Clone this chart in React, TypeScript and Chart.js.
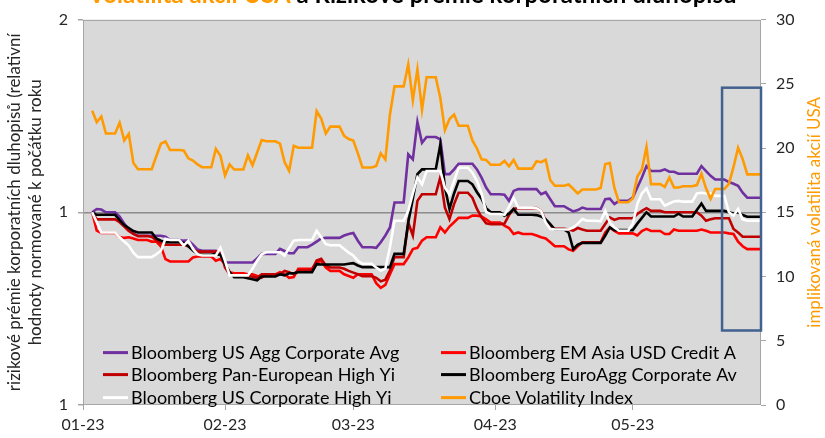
import React, { useEffect, useRef } from "react";
import { Chart, registerables } from "chart.js";

Chart.register(...registerables);

const FONT = "Lato, 'Open Sans', sans-serif";
const AXIS_COLOR = "#A6A6A6";
const TEXT_COLOR = "#262626";

// x axis: day offsets from 2023-01-01 (Sunday). Data are business days; weekends carry Friday's value.
const firstDay = 2;
const lastDay = 148;
const monthTickDays = [0, 31, 59, 90, 120];
const monthTickLabels = ["01-23", "02-23", "03-23", "04-23", "05-23"];
const leftTickValues = [0.5, 1, 2];
const rightTickMax = 30;
const rightTickStep = 5;

const seriesNames = [
  "Bloomberg US Agg Corporate Avg",
  "Bloomberg EM Asia USD Credit A",
  "Bloomberg Pan-European High Yi",
  "Bloomberg EuroAgg Corporate Av",
  "Bloomberg US Corporate High Yi",
  "Cboe Volatility Index",
];
const seriesColors = ["#7030A0", "#FF0000", "#C00000", "#000000", "#FFFFFF", "#FF9A00"];

// one row per week (Mon..Fri)
const usAggCorporate = [
  1.0, 1.012, 1.01, 1.0,
  0.985, 0.96, 0.94, 0.925, 0.919,
  0.919, 0.919, 0.919, 0.916, 0.905,
  0.903, 0.903, 0.89, 0.875, 0.871,
  0.871, 0.862, 0.835, 0.835, 0.835,
  0.835, 0.835, 0.847, 0.861, 0.861,
  0.877, 0.87, 0.863, 0.863, 0.882,
  0.89, 0.9, 0.91, 0.912, 0.912,
  0.92, 0.925, 0.928, 0.903, 0.882,
  0.88, 0.898, 0.92, 0.947, 1.036,
  1.232, 1.21, 1.384, 1.284, 1.311,
  1.3, 1.147, 1.147, 1.167, 1.191,
  1.191, 1.167, 1.133, 1.093, 1.067,
  1.065, 1.042, 1.08, 1.087, 1.087,
  1.087, 1.067, 1.075, 1.048, 1.022,
  1.012, 1.003, 1.008, 1.017, 1.012,
  1.012, 1.048, 1.05, 1.03, 1.042,
  1.054, 1.093, 1.133, 1.181, 1.16,
  1.167, 1.157, 1.157, 1.149, 1.149,
  1.149, 1.181, 1.16, 1.14, 1.125,
  1.115, 1.108, 1.1, 1.073, 1.054,
  1.054,
];

const emAsiaCredit = [
  1.0, 0.936, 0.928, 0.928,
  0.915, 0.912, 0.914, 0.91, 0.905,
  0.9, 0.9, 0.885, 0.845, 0.838,
  0.838, 0.838, 0.85, 0.853, 0.853,
  0.84, 0.845, 0.83, 0.806, 0.803,
  0.8, 0.8, 0.795, 0.79, 0.8,
  0.806, 0.8, 0.79, 0.792, 0.816,
  0.816, 0.835, 0.84, 0.82, 0.81,
  0.8, 0.795, 0.79, 0.8, 0.8,
  0.775, 0.762, 0.77, 0.8, 0.83,
  0.85, 0.876, 0.88, 0.903, 0.914,
  0.947, 0.93, 0.95, 0.965, 0.98,
  0.988, 0.988, 0.985, 0.975, 0.964,
  0.953, 0.945, 0.925, 0.93, 0.925,
  0.92, 0.914, 0.91, 0.898, 0.885,
  0.875, 0.871, 0.885, 0.898, 0.898,
  0.898, 0.93, 0.947, 0.935, 0.927,
  0.927, 0.92, 0.935, 0.942, 0.935,
  0.925, 0.925, 0.94, 0.936, 0.936,
  0.936, 0.94, 0.936, 0.93, 0.93,
  0.927, 0.925, 0.9, 0.885, 0.876,
  0.876,
];

const panEuroHighYield = [
  1.0, 0.975, 0.975, 0.975,
  0.965, 0.95, 0.935, 0.925, 0.918,
  0.915, 0.905, 0.895, 0.89, 0.89,
  0.89, 0.885, 0.875, 0.868, 0.868,
  0.868, 0.87, 0.82, 0.8, 0.796,
  0.796, 0.793, 0.79, 0.8, 0.8,
  0.8, 0.81, 0.806, 0.8, 0.811,
  0.813, 0.841, 0.846, 0.826, 0.82,
  0.816, 0.81, 0.805, 0.8, 0.795,
  0.79, 0.78, 0.785, 0.811, 0.851,
  0.964, 0.92, 1.042, 1.067, 1.067,
  1.135, 1.017, 0.976, 1.03, 1.073,
  1.054, 1.012, 0.982, 0.961, 0.958,
  0.96, 0.99, 1.012, 1.015, 1.015,
  1.015, 1.005, 0.97, 0.945, 0.942,
  0.94, 0.936, 0.945, 0.94, 0.936,
  0.936, 0.959, 0.982, 0.973, 0.979,
  0.979, 0.994, 1.005, 1.015, 1.005,
  1.0, 1.0, 1.0, 1.0, 1.0,
  1.0, 0.988, 0.97, 0.975, 0.979,
  0.979, 0.942, 0.93, 0.916, 0.916,
  0.916,
];

const euroAggCorporate = [
  1.0, 0.991, 0.991, 0.991,
  0.972, 0.955, 0.945, 0.935, 0.93,
  0.93, 0.91, 0.903, 0.898, 0.898,
  0.896, 0.885, 0.872, 0.861, 0.858,
  0.861, 0.858, 0.83, 0.806, 0.792,
  0.789, 0.786, 0.783, 0.794, 0.794,
  0.8, 0.797, 0.803, 0.803, 0.806,
  0.806, 0.83, 0.829, 0.829, 0.829,
  0.829, 0.831, 0.833, 0.826, 0.821,
  0.821, 0.821, 0.821, 0.821, 0.861,
  0.964, 1.05, 1.147, 1.167, 1.167,
  1.276, 1.093, 1.012, 1.07, 1.119,
  1.106, 1.075, 1.05, 1.015, 1.0,
  0.988, 0.995, 1.012, 0.991, 0.991,
  0.99, 0.985, 0.975, 0.958, 0.94,
  0.93, 0.876, 0.89, 0.896, 0.896,
  0.896, 0.92, 0.947, 0.938, 0.938,
  0.938, 0.96, 0.98, 1.0, 0.985,
  0.985, 0.985, 0.985, 0.995, 0.985,
  1.008, 1.032, 1.005, 1.005, 1.005,
  1.0, 0.996, 1.0, 0.99, 0.984,
  0.984,
];

const usCorpHighYield = [
  1.0, 0.965, 0.93, 0.93,
  0.914, 0.9, 0.887, 0.865, 0.851,
  0.851, 0.86, 0.871, 0.909, 0.905,
  0.887, 0.903, 0.876, 0.86, 0.856,
  0.856, 0.88, 0.84, 0.797, 0.797,
  0.797, 0.816, 0.84, 0.86, 0.866,
  0.866, 0.856, 0.88, 0.903, 0.905,
  0.905, 0.936, 0.914, 0.892, 0.888,
  0.876, 0.865, 0.856, 0.84, 0.831,
  0.82, 0.811, 0.816, 0.882, 0.97,
  1.005, 1.07, 1.133, 1.106, 1.16,
  1.16, 1.093, 1.067, 1.119, 1.174,
  1.153, 1.119, 1.07, 1.0, 0.994,
  0.991, 1.02, 1.054, 1.017, 1.017,
  1.015, 1.005, 0.964, 0.942, 0.94,
  0.94, 0.947, 0.96, 0.976, 0.97,
  0.968, 1.005, 0.964, 0.947, 0.936,
  0.959, 1.03, 1.07, 1.09, 1.048,
  1.024, 1.032, 1.04, 1.042, 1.039,
  1.07, 1.073, 1.07, 1.07, 1.061,
  1.0, 0.988, 1.012, 0.975, 0.97,
  0.97,
];

const vixIndex = [
  22.9, 22.01, 22.46, 21.13,
  21.97, 20.6, 21.1, 18.83, 18.35,
  18.35, 19.36, 20.34, 20.52, 19.85,
  19.81, 19.2, 19.03, 18.73, 18.51,
  19.94, 19.4, 17.87, 18.73, 18.33,
  19.43, 18.66, 19.63, 20.63, 20.53,
  20.34, 18.91, 18.23, 20.17, 20.02,
  20.02, 22.87, 22.29, 21.14, 21.67,
  20.95, 20.7, 20.58, 19.59, 18.49,
  18.6, 19.59, 19.11, 22.61, 24.8,
  26.52, 23.73, 26.14, 22.99, 25.51,
  23.9, 21.4, 22.26, 22.61, 21.74,
  20.6, 19.97, 19.12, 19.08, 18.7,
  19.0, 18.58, 19.08, 18.4, 18.4,
  18.97, 18.9, 19.09, 17.5, 17.07,
  17.16, 16.83, 16.46, 16.77, 16.77,
  16.89, 18.76, 18.84, 16.9, 15.78,
  16.08, 17.78, 18.34, 20.09, 17.19,
  16.98, 17.71, 16.94, 16.93, 17.03,
  17.12, 17.99, 16.87, 16.05, 16.81,
  17.21, 18.53, 20.03, 19.14, 17.95,
  17.95,
];

const seriesValues = [usAggCorporate, emAsiaCredit, panEuroHighYield, euroAggCorporate, usCorpHighYield, vixIndex];
const seriesAxis = ["y", "y", "y", "y", "y", "y1"];

const titleParts = [
  { text: "Volatilita akcií USA", color: "#FF9A00" },
  { text: " a ", color: "#000000" },
  { text: "Rizikové prémie korporátních dluhopisů", color: "#000000" },
];
const leftAxisTitle = ["rizikové prémie korporatních dluhopisů (relativní", "hodnoty normované k počátku roku"];
const rightAxisTitle = "implikovaná volatilita akcií USA";

// highlighted window (data coordinates: days and VIX scale)
const highlightFromDay = 139.5;
const highlightToDay = 148;
const highlightVixLow = 5.8;
const highlightVixHigh = 24.7;

const businessDays: number[] = [];
for (let d = firstDay; d <= lastDay; d++) {
  const w = d % 7;
  if (w >= 1 && w <= 5) businessDays.push(d);
}

function toPoints(values: number[]) {
  const pts: { x: number; y: number }[] = [];
  businessDays.forEach((d, i) => {
    pts.push({ x: d, y: values[i] });
    if (d % 7 === 5 && i < businessDays.length - 1) pts.push({ x: d + 2, y: values[i] });
  });
  return pts;
}

const backgroundPlugin = {
  id: "plotBackground",
  beforeDraw(chart: any) {
    const { ctx, chartArea: a } = chart;
    ctx.save();
    ctx.fillStyle = "#FFFFFF";
    ctx.fillRect(0, 0, chart.width, chart.height);
    ctx.fillStyle = "#D9D9D9";
    ctx.fillRect(a.left, a.top, a.right - a.left, a.bottom - a.top);
    ctx.restore();
  },
  beforeDatasetsDraw(chart: any) {
    const { ctx, chartArea: a } = chart;
    ctx.save();
    ctx.strokeStyle = AXIS_COLOR;
    ctx.lineWidth = 1;
    ctx.strokeRect(Math.round(a.left) + 0.5, Math.round(a.top) + 0.5, Math.round(a.right - a.left) - 1, Math.round(a.bottom - a.top) - 1);
    ctx.restore();
  },
};

const overlayPlugin = {
  id: "overlay",
  afterDraw(chart: any) {
    const { ctx, chartArea: a, scales } = chart;
    ctx.save();

    // highlight box
    const x0 = scales.x.getPixelForValue(highlightFromDay);
    const x1 = scales.x.getPixelForValue(highlightToDay);
    const yTop = scales.y1.getPixelForValue(highlightVixHigh);
    const yBot = scales.y1.getPixelForValue(highlightVixLow);
    ctx.strokeStyle = "#41618F";
    ctx.lineWidth = 2.5;
    ctx.strokeRect(x0, yTop, x1 - x0, yBot - yTop);

    // legend (two columns, three rows)
    ctx.font = `18px ${FONT}`;
    ctx.textBaseline = "middle";
    ctx.textAlign = "left";
    const colX = [a.left + 20, a.left + 358];
    const rowY = [a.top + 333, a.top + 355, a.top + 378];
    seriesNames.forEach((name, i) => {
      const col = i % 2;
      const row = Math.floor(i / 2);
      const x = colX[col];
      const y = rowY[row];
      ctx.strokeStyle = seriesColors[i];
      ctx.lineWidth = 3;
      ctx.beginPath();
      ctx.moveTo(x, y);
      ctx.lineTo(x + 25, y);
      ctx.stroke();
      ctx.fillStyle = "#000000";
      ctx.fillText(name, x + 28, y + 1);
    });

    // title (cropped at the top)
    ctx.font = `bold 24px ${FONT}`;
    ctx.textBaseline = "alphabetic";
    const widths = titleParts.map((p) => ctx.measureText(p.text).width);
    const total = widths.reduce((s, w) => s + w, 0);
    let tx = chart.width / 2 - total / 2;
    titleParts.forEach((p, i) => {
      ctx.fillStyle = p.color;
      ctx.fillText(p.text, tx, 3);
      tx += widths[i];
    });

    // left axis title
    const cy = (a.top + a.bottom) / 2;
    ctx.font = `17px ${FONT}`;
    ctx.fillStyle = TEXT_COLOR;
    ctx.textAlign = "center";
    ctx.textBaseline = "middle";
    [15, 36].forEach((lx, i) => {
      ctx.save();
      ctx.translate(lx, cy);
      ctx.rotate(-Math.PI / 2);
      ctx.fillText(leftAxisTitle[i], 0, 0);
      ctx.restore();
    });

    // right axis title
    ctx.fillStyle = "#FF9A00";
    ctx.save();
    ctx.translate(815, cy);
    ctx.rotate(-Math.PI / 2);
    ctx.fillText(rightAxisTitle, 0, 0);
    ctx.restore();

    ctx.restore();
  },
};

export default function App() {
  const ref = useRef<HTMLCanvasElement>(null);
  useEffect(() => {
    const canvas = ref.current;
    if (!canvas) return;
    const n = seriesNames.length;
    const datasets = seriesNames.map((name, i) => ({
      label: name,
      data: toPoints(seriesValues[i]),
      yAxisID: seriesAxis[i],
      borderColor: seriesColors[i],
      backgroundColor: seriesColors[i],
      borderWidth: 2.6,
      pointRadius: 0,
      tension: 0,
      fill: false,
      order: n - 1 - i,
    }));
    const tickFont = { family: FONT, size: 16 };
    const chart = new Chart(canvas, {
      type: "line",
      data: { datasets },
      options: {
        responsive: false,
        animation: false,
        devicePixelRatio: 1,
        layout: { padding: { top: 18, left: 0, right: 0, bottom: 0 } },
        plugins: { legend: { display: false }, tooltip: { enabled: false }, title: { display: false } },
        scales: {
          x: {
            type: "linear",
            position: "bottom",
            min: 0,
            max: lastDay,
            afterBuildTicks: (s: any) => {
              s.ticks = monthTickDays.map((v) => ({ value: v }));
            },
            afterFit: (s: any) => {
              s.height = 33;
            },
            ticks: {
              autoSkip: false,
              maxRotation: 0,
              padding: 5,
              color: TEXT_COLOR,
              font: tickFont,
              callback: (v: any) => {
                const k = monthTickDays.indexOf(Number(v));
                return k >= 0 ? monthTickLabels[k] : "";
              },
            },
            grid: { drawOnChartArea: false, tickColor: AXIS_COLOR, tickLength: 5 },
            border: { display: false },
          },
          y: {
            type: "logarithmic",
            position: "left",
            min: leftTickValues[0],
            max: leftTickValues[leftTickValues.length - 1],
            afterBuildTicks: (s: any) => {
              s.ticks = leftTickValues.map((v) => ({ value: v }));
            },
            afterFit: (s: any) => {
              s.width = 83;
            },
            ticks: {
              padding: 10,
              color: TEXT_COLOR,
              font: tickFont,
              callback: (v: any) => Number(v).toFixed(0),
            },
            grid: {
              color: (c: any) => (c.tick && c.tick.value === 1 ? "#8C8C8C" : "rgba(0,0,0,0)"),
              lineWidth: 1.5,
              tickColor: AXIS_COLOR,
              tickLength: 5,
            },
            border: { display: false },
          },
          y1: {
            type: "linear",
            position: "right",
            min: 0,
            max: rightTickMax,
            afterFit: (s: any) => {
              s.width = 64;
            },
            ticks: { stepSize: rightTickStep, padding: 10, color: TEXT_COLOR, font: tickFont },
            grid: { drawOnChartArea: false, tickColor: AXIS_COLOR, tickLength: 5 },
            border: { display: false },
          },
        },
      } as any,
      plugins: [backgroundPlugin, overlayPlugin],
    });
    return () => chart.destroy();
  }, []);
  return (
    <div style={{ position: "fixed", left: 0, top: 0, width: 825, height: 438, background: "#fff" }}>
      <canvas ref={ref} width={825} height={438} style={{ display: "block", width: 825, height: 438 }} />
    </div>
  );
}
